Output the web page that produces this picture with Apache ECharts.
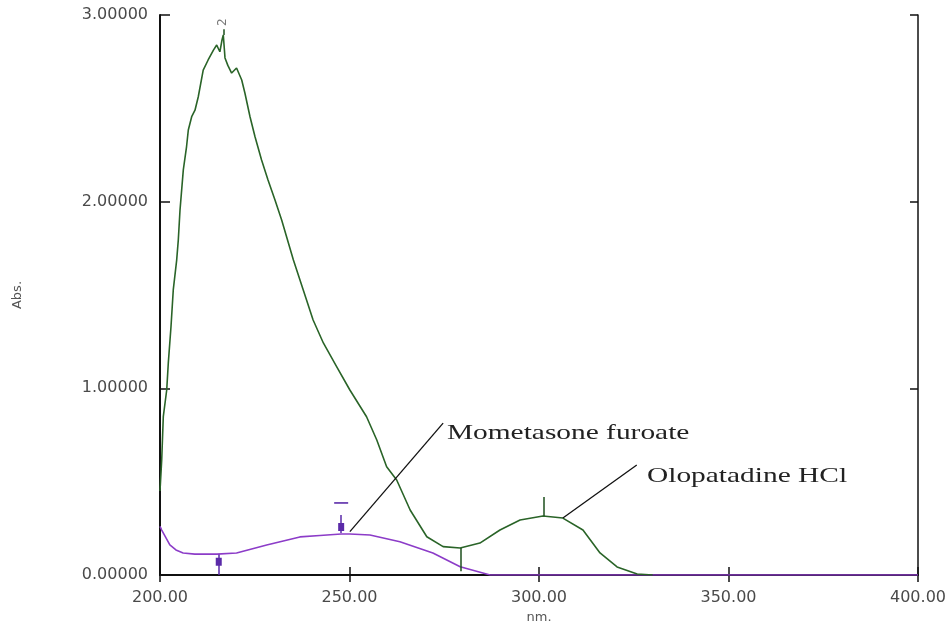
<!DOCTYPE html>
<html><head><meta charset="utf-8">
<script src="https://cdn.jsdelivr.net/npm/echarts@6/dist/echarts.min.js"></script>
<style>html,body{margin:0;padding:0;background:#fff}#c{width:950px;height:625px}</style>
</head><body><div id="c"></div>
<script>
// Wavelength (nm) and absorbance
const greenNm  = [200.0,200.45,200.87,201.77,202.19,202.9,203.5,204.4,204.83,205.28,206.15,207.0,207.47,208.36,209.23,210.1,211.4,212.7,214.1,214.96,215.8,216.36,216.7,216.9,217.15,217.9,218.9,220.2,221.56,222.4,223.75,225.07,226.8,228.5,230.34,232.1,235.2,237.8,240.4,243.1,246.6,250.1,254.5,257.2,259.8,262.45,266.0,270.4,274.7,279.2,284.4,289.7,295.0,301.05,306.3,311.6,316.1,320.6,325.9,330.0];
const greenAbs = [0.45,0.616,0.848,0.991,1.136,1.33,1.527,1.687,1.795,1.955,2.17,2.294,2.384,2.455,2.49,2.562,2.705,2.759,2.812,2.839,2.803,2.866,2.893,2.839,2.77,2.73,2.689,2.716,2.652,2.582,2.455,2.348,2.223,2.116,2.009,1.902,1.687,1.527,1.366,1.243,1.116,0.991,0.848,0.723,0.58,0.509,0.348,0.205,0.152,0.145,0.171,0.241,0.295,0.316,0.305,0.241,0.118,0.043,0.005,0.0];
const purpleNm  = [200.0,200.45,202.6,204.2,206.1,209.2,215.0,220.2,228.15,236.9,242.2,247.8,250.1,255.4,263.3,272.0,279.2,287.1,300,350,400];
const purpleAbs = [0.26,0.241,0.161,0.134,0.118,0.112,0.112,0.118,0.161,0.204,0.212,0.22,0.22,0.214,0.178,0.118,0.044,0.0,0,0,0];
const xTicks = {min:200, max:400, interval:50};
const yTicks = {min:0, max:3, interval:1};
const annotations = [
  {text:'Mometasone furoate', at:[275.7,0.758], from:[250.1,0.232], to:[274.7,0.814]},
  {text:'Olopatadine HCl', at:[328.5,0.528], from:[306.3,0.305], to:[325.8,0.589]}
];
// peak / valley pick markers: [nm, lineTop, lineBottom, dot, dash or null]
const purplePicks = [[215.5,0.11,0.0,0.071,null],[247.8,0.321,0.225,0.257,0.386]];
const greenPicks  = [[279.3,0.145,0.02,0.096,null],[301.3,0.418,0.316,0.348,0.493]];
const topPeak = {nm:216.7, abs:2.893, label:'2', labelAbs:2.962};

const GREEN='#2a6428', PURPLE='#8c3cc8';
const pairs=(a,b)=>a.map((v,i)=>[v,b[i]]);
function pickMarks(picks,dotColor){
  const lines=[],points=[];
  picks.forEach(p=>{
    lines.push([{coord:[p[0],p[1]],lineStyle:{color:dotColor,width:1.5,type:'solid'}},{coord:[p[0],p[2]]}]);
    points.push({coord:[p[0],p[3]],symbol:'rect',symbolSize:[6,8],itemStyle:{color:dotColor}});
    if(p[4]!==null) points.push({coord:[p[0],p[4]],symbol:'rect',symbolSize:[14,1.6],itemStyle:{color:dotColor}});
  });
  return {lines,points};
}
const pm=pickMarks(purplePicks,'#5a2aa8');
const gm=pickMarks(greenPicks,'#1d4f1d');
const leader={color:'#111',width:1.3,type:'solid'};

const chart=echarts.init(document.getElementById('c'),null,{renderer:'canvas'});
const lblFont={fontFamily:'DejaVu Sans',fontSize:16,color:'#4a4a4a'};
chart.setOption({
  animation:false,
  backgroundColor:'#fff',
  grid:{left:160,right:32,top:15,bottom:50,containLabel:false,outerBoundsMode:'none'},
  xAxis:[
    {type:'value',min:xTicks.min,max:xTicks.max,interval:xTicks.interval,position:'bottom',
     name:'nm.',nameLocation:'middle',nameGap:35,nameTextStyle:{fontFamily:'DejaVu Sans',fontSize:13,color:'#555'},
     axisLine:{lineStyle:{color:'#111',width:2}},axisTick:{inside:true,length:8,lineStyle:{color:'#111',width:1.5}},
     axisLabel:Object.assign({margin:15,formatter:v=>v.toFixed(2)},lblFont),splitLine:{show:false}},
    {type:'value',min:xTicks.min,max:xTicks.max,interval:xTicks.interval,position:'top',
     axisLine:{lineStyle:{color:'#111',width:1.5}},axisTick:{inside:true,length:7,lineStyle:{color:'#111',width:1.5}},
     axisLabel:{show:false},splitLine:{show:false}}
  ],
  yAxis:[
    {type:'value',min:yTicks.min,max:yTicks.max,interval:yTicks.interval,position:'left',
     name:'Abs.',nameLocation:'middle',nameGap:136,nameRotate:90,nameTextStyle:{fontFamily:'DejaVu Sans',fontSize:13,color:'#555'},
     axisLine:{show:true,lineStyle:{color:'#111',width:2}},axisTick:{show:true,inside:true,length:10,lineStyle:{color:'#111',width:1.5}},
     axisLabel:Object.assign({margin:12,formatter:v=>v.toFixed(5)},lblFont),splitLine:{show:false}},
    {type:'value',min:yTicks.min,max:yTicks.max,interval:yTicks.interval,position:'right',
     axisLine:{show:true,lineStyle:{color:'#111',width:1.5}},axisTick:{show:true,inside:true,length:8,lineStyle:{color:'#111',width:1.5}},
     axisLabel:{show:false},splitLine:{show:false}}
  ],
  series:[
    {type:'line',data:pairs(purpleNm,purpleAbs),showSymbol:false,lineStyle:{color:PURPLE,width:1.6},itemStyle:{color:PURPLE},z:3,
     markLine:{silent:true,symbol:['none','none'],label:{show:false},lineStyle:{type:'solid'},
       data:[...pm.lines,
             [{coord:annotations[0].from,lineStyle:leader},{coord:annotations[0].to}]]},
     markPoint:{silent:true,label:{show:false},data:pm.points}},
    {type:'line',data:pairs(greenNm,greenAbs),showSymbol:false,lineStyle:{color:GREEN,width:1.6},itemStyle:{color:GREEN},z:4,
     markLine:{silent:true,symbol:['none','none'],label:{show:false},lineStyle:{type:'solid'},
       data:[...gm.lines,
             [{coord:annotations[1].from,lineStyle:leader},{coord:annotations[1].to}],
             [{coord:[topPeak.nm,topPeak.abs],lineStyle:{color:'#1d4f1d',width:1.5,type:'solid'}},{coord:[topPeak.nm,topPeak.abs+0.03]}]]},
     markPoint:{silent:true,data:[{coord:[topPeak.nm,topPeak.labelAbs],symbol:'circle',symbolSize:1,itemStyle:{color:'rgba(0,0,0,0)'},
       label:{show:true,formatter:topPeak.label,rotate:90,position:'inside',fontFamily:'DejaVu Sans',fontSize:12,color:'#777'}}]}}
  ]
});
const g=annotations.map(a=>{
  const p=chart.convertToPixel({gridIndex:0},a.at);
  return {type:'text',x:p[0],y:p[1],scaleX:1.4,scaleY:1,silent:true,
    style:{text:a.text,x:0,y:0,font:'21px "Liberation Serif"',fill:'#222',textVerticalAlign:'middle',textAlign:'left'}};
});
chart.setOption({graphic:g});
</script></body></html>
